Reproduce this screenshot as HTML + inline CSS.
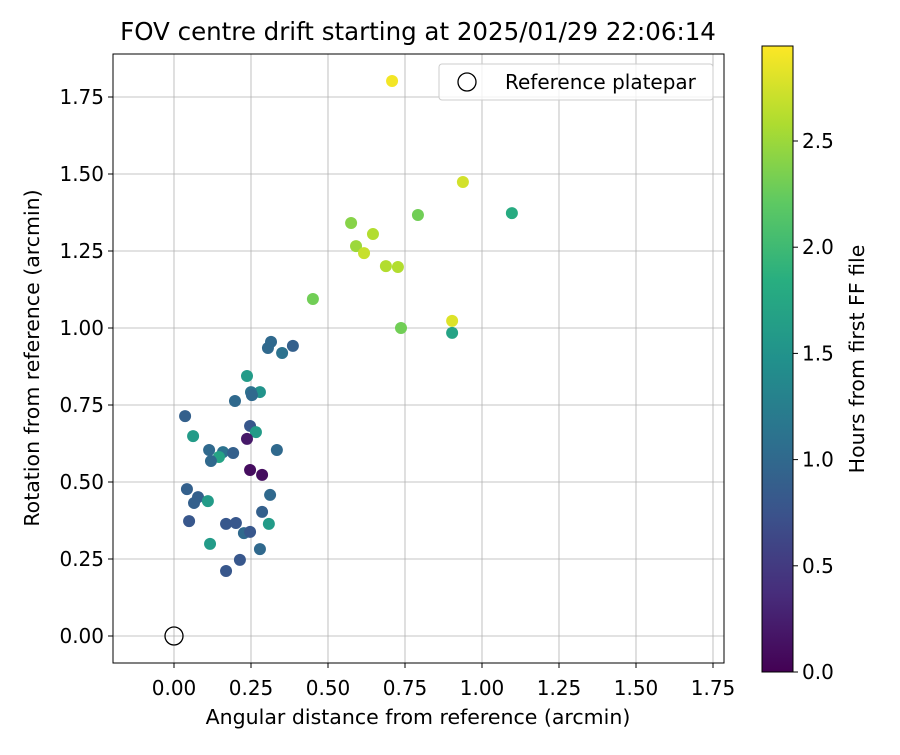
<!DOCTYPE html>
<html><head><meta charset="utf-8"><style>
body{margin:0;background:#fff;font-family:"Liberation Sans","DejaVu Sans",sans-serif}
</style></head><body>
<svg id="chart" width="900" height="750" xmlns="http://www.w3.org/2000/svg" font-family="DejaVu Sans, Liberation Sans, sans-serif">
<defs><linearGradient id="vir" x1="0" y1="1" x2="0" y2="0">
<stop offset="0" stop-color="#440154"/><stop offset="0.125" stop-color="#472d7b"/><stop offset="0.25" stop-color="#3b528b"/><stop offset="0.375" stop-color="#2c728e"/><stop offset="0.5" stop-color="#21918c"/><stop offset="0.625" stop-color="#28ae80"/><stop offset="0.75" stop-color="#5ec962"/><stop offset="0.875" stop-color="#addc30"/><stop offset="1" stop-color="#fde725"/></linearGradient></defs>
<g id="grid"></g>
<g id="marks"></g>
<rect x="113" y="54" width="611" height="609" fill="none" stroke="#000" stroke-width="1"/>
<g id="axes"></g>
<text x="418" y="40" font-size="24.5" text-anchor="middle">FOV centre drift starting at 2025/01/29 22:06:14</text>
<text x="418" y="724" font-size="20.5" text-anchor="middle">Angular distance from reference (arcmin)</text>
<text transform="translate(39,358) rotate(-90)" font-size="20.5" text-anchor="middle">Rotation from reference (arcmin)</text>
<g>
<rect x="439" y="64" width="274" height="36" rx="3" fill="#fff" fill-opacity="0.8" stroke="#ccc"/>
<circle cx="467" cy="82" r="9" fill="none" stroke="#000" stroke-width="1.3"/>
<text x="505" y="89" font-size="20">Reference platepar</text>
</g>
<rect x="762" y="46" width="31" height="626" fill="url(#vir)" stroke="#000" stroke-width="1"/>
<g id="cbar"></g>
<text transform="translate(864,359) rotate(-90)" font-size="20.5" text-anchor="middle">Hours from first FF file</text>
</svg>
<script>
const xVals=[0.708,0.938,1.097,0.575,0.792,0.646,0.591,0.617,0.688,0.727,0.451,0.737,0.903,0.903,0.315,0.305,0.351,0.386,0.237,0.279,0.250,0.253,0.198,0.036,0.062,0.247,0.266,0.114,0.159,0.146,0.120,0.192,0.237,0.334,0.247,0.286,0.042,0.078,0.065,0.049,0.312,0.110,0.286,0.169,0.201,0.227,0.247,0.308,0.117,0.279,0.214,0.169];
const yVals=[1.802,1.474,1.373,1.341,1.367,1.305,1.266,1.243,1.201,1.198,1.094,1.000,1.023,0.984,0.955,0.935,0.919,0.942,0.844,0.792,0.792,0.782,0.763,0.714,0.649,0.682,0.662,0.604,0.597,0.581,0.568,0.594,0.640,0.604,0.539,0.523,0.477,0.451,0.432,0.373,0.458,0.438,0.403,0.364,0.367,0.334,0.338,0.364,0.299,0.282,0.247,0.211];
const hours=[2.9,2.75,1.8,2.4,2.3,2.6,2.5,2.7,2.6,2.6,2.3,2.3,2.8,1.7,1.0,1.0,1.1,0.9,1.6,1.5,1.1,1.0,1.0,0.9,1.6,0.8,1.6,1.0,1.1,1.7,1.0,0.9,0.2,1.0,0.1,0.1,0.9,0.9,0.9,0.8,1.0,1.6,0.9,0.8,0.8,1.0,0.8,1.6,1.6,1.0,0.8,0.8];
const xTicks=[0,0.25,0.5,0.75,1,1.25,1.5,1.75];
const yTicks=[0,0.25,0.5,0.75,1,1.25,1.5,1.75];
const cTicks=[0,0.5,1,1.5,2,2.5];
const NS='http://www.w3.org/2000/svg';
const sx=v=>174+v*308, sy=v=>636-v*308, sc=v=>672-v*212.4;
const vir=['#440154','#472d7b','#3b528b','#2c728e','#21918c','#28ae80','#5ec962','#addc30','#fde725'];
function hex(h){return [1,3,5].map(i=>parseInt(h.substr(i,2),16));}
function cmap(t){t=Math.max(0,Math.min(1,t))*8;const i=Math.min(7,Math.floor(t)),f=t-i;const a=hex(vir[i]),b=hex(vir[i+1]);return 'rgb('+a.map((v,k)=>Math.round(v+(b[k]-v)*f)).join(',')+')';}
function mk(tag,attrs,parent,txt){const e=document.createElementNS(NS,tag);for(const k in attrs)e.setAttribute(k,attrs[k]);if(txt!==undefined)e.textContent=txt;parent.appendChild(e);return e;}
const grid=document.getElementById('grid'),axes=document.getElementById('axes'),marks=document.getElementById('marks'),cbar=document.getElementById('cbar');
xTicks.forEach(t=>{const x=sx(t);
 const g=mk('line',{x1:x,x2:x,y1:54,y2:663,stroke:'#b0b0b0','stroke-width':0.8},grid);
 mk('line',{x1:x,x2:x,y1:663,y2:668,stroke:'#000'},axes);
 const l=mk('text',{x:x,y:695,'font-size':20,'text-anchor':'middle'},axes,t.toFixed(2));});
yTicks.forEach(t=>{const y=sy(t);
 const g=mk('line',{x1:113,x2:724,y1:y,y2:y,stroke:'#b0b0b0','stroke-width':0.8},grid);
 mk('line',{x1:108,x2:113,y1:y,y2:y,stroke:'#000'},axes);
 const l=mk('text',{x:104,y:y+7,'font-size':20,'text-anchor':'end'},axes,t.toFixed(2));});
cTicks.forEach(t=>{const y=sc(t);
 mk('line',{x1:793,x2:798,y1:y,y2:y,stroke:'#000'},cbar);
 const l=mk('text',{x:802,y:y+7,'font-size':20},cbar,t.toFixed(1));});
xVals.forEach((v,i)=>{const c=mk('circle',{cx:sx(v),cy:sy(yVals[i]),r:6,fill:cmap(hours[i]/2.947)},marks);
 
 });
const ref=mk('circle',{cx:sx(0),cy:sy(0),r:9,fill:'none',stroke:'#000','stroke-width':1.3},marks);


</script>
</body></html>
